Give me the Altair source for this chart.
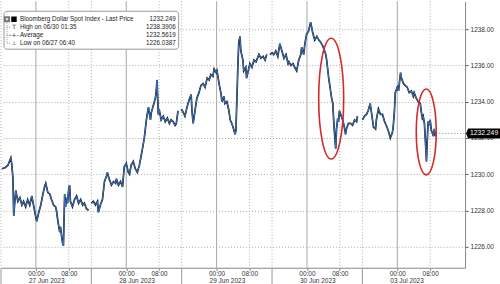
import altair as alt
import pandas as pd

# ---- price series (x = trading hours from 27 Jun 00:00 on the compressed axis) ----
seg_a_h = [-8.3, -7.6, -6.8, -6.1, -5.9, -5.6, -5.4, -5.1, -4.9, -4.4, -3.9, -3.4, -3.0, -2.5, -2.0, -1.5, -1.0, -0.5, 0.0, 0.2,
           0.7, 1.2, 1.7, 2.1, 2.4, 2.9, 3.4, 3.8, 4.3, 4.8, 5.0, 5.3, 5.5, 5.8, 6.0, 6.3, 6.5, 6.7, 7.0, 7.2,
           7.5, 7.7, 8.0, 8.2, 8.4, 8.9, 9.4, 9.9, 10.4, 10.9, 11.4, 11.8, 12.3, 12.8]
seg_a_v = [1230.3, 1230.35, 1230.5, 1230.9, 1230.6, 1229.8, 1227.7, 1228.6, 1229.1, 1228.5, 1228.7, 1228.3, 1228.5, 1228.2, 1228.6, 1228.3, 1228.8, 1228.2, 1227.6, 1227.4,
           1227.9, 1228.3, 1228.9, 1229.3, 1229.5, 1229.0, 1228.9, 1228.6, 1228.3, 1228.2, 1228.0, 1227.5, 1227.2, 1226.8, 1227.1, 1226.5, 1226.2, 1226.05, 1228.9, 1228.2,
           1228.7, 1228.4, 1229.2, 1229.4, 1228.5, 1228.2, 1228.6, 1228.8, 1228.4, 1228.6, 1228.3, 1228.4, 1228.1, 1228.0]

seg_b_h = [13.5, 14.0, 14.5, 15.0, 15.2, 15.7, 16.2, 16.7, 17.2, 17.4, 17.9, 18.4, 18.9, 19.4, 19.6, 20.1, 20.6, 21.1, 21.5, 22.0,
           22.5, 22.8, 23.2, 23.7, 24.2, 24.7, 25.2, 25.7, 26.1, 26.4, 26.9, 27.4, 27.9, 28.1, 28.6, 29.1, 29.3, 29.5, 29.8, 30.0,
           30.5, 31.0, 31.5, 32.0, 32.5, 32.9, 33.4, 33.9, 34.2, 34.6]
seg_b_v = [1228.4, 1228.5, 1228.3, 1228.5, 1227.9, 1228.3, 1228.6, 1229.6, 1229.9, 1230.1, 1229.7, 1229.4, 1229.6, 1229.5, 1229.75, 1229.4, 1229.6, 1229.3, 1230.4, 1230.6,
           1230.1, 1230.0, 1230.5, 1230.7, 1230.3, 1230.1, 1230.5, 1231.1, 1231.6, 1232.0, 1233.0, 1233.7, 1233.0, 1233.4, 1233.8, 1234.2, 1234.6, 1235.2, 1233.3, 1233.6,
           1233.0, 1233.2, 1232.9, 1233.1, 1232.8, 1233.0, 1232.9, 1232.7, 1232.8, 1233.5]

seg_c_h = [35.4, 35.9, 36.3, 36.8, 37.3, 37.8, 38.0, 38.3, 38.8, 39.2, 39.7, 40.2, 40.7, 41.2, 41.7, 42.2, 42.6, 43.1, 43.4, 43.9,
           44.1, 44.6, 45.1, 45.3, 45.8, 46.0, 46.5, 47.0, 47.3, 47.7, 48.0, 48.5, 48.7, 49.0, 49.2, 49.4, 49.7, 49.9, 50.4, 50.6,
           51.1, 51.3, 51.8, 52.1, 52.6, 53.1, 53.6, 54.3, 54.8, 55.3, 55.8, 56.2]
seg_c_v = [1233.6, 1233.4, 1233.2, 1233.7, 1234.1, 1234.4, 1233.5, 1232.8, 1233.6, 1234.2, 1234.5, 1234.9, 1235.0, 1234.8, 1235.3, 1235.2, 1235.5, 1235.4, 1235.8, 1235.6,
           1235.7, 1235.0, 1234.4, 1234.0, 1234.3, 1233.9, 1234.0, 1233.5, 1233.0, 1232.8, 1232.6, 1232.2, 1232.4, 1234.6, 1236.1, 1237.3, 1237.6, 1236.8, 1236.3, 1235.7,
           1235.9, 1235.3, 1235.8, 1236.1, 1235.9, 1236.3, 1236.2, 1236.6, 1236.4, 1236.5, 1236.3, 1236.6]

seg_d_h = [57.0, 57.5, 57.9, 58.4, 58.9, 59.4, 59.9, 60.4, 60.9, 61.4, 61.6, 62.1, 62.6, 63.0, 63.5, 64.0, 64.5, 64.7, 65.2, 65.5,
           65.9, 66.4, 66.9, 67.4, 67.9, 68.4, 68.9, 69.3, 69.8, 70.3, 70.6, 70.8, 71.3, 71.5, 72.0, 72.3, 72.5, 72.7, 73.0, 73.2,
           73.5, 73.7, 73.9, 74.2, 74.7, 75.1, 75.4, 75.6, 76.1, 76.6, 77.1, 77.6, 78.1, 78.3]
seg_d_v = [1236.6, 1236.7, 1236.6, 1236.8, 1236.5, 1237.2, 1236.8, 1236.4, 1236.6, 1236.1, 1236.2, 1236.0, 1236.1, 1235.9, 1235.7, 1236.3, 1236.6, 1237.0, 1236.6, 1237.2,
           1237.7, 1237.9, 1238.39, 1237.8, 1237.4, 1237.6, 1237.4, 1237.3, 1237.1, 1236.8, 1236.6, 1236.3, 1235.3, 1235.0, 1234.2, 1233.9, 1233.0, 1232.3, 1231.4, 1232.5,
           1233.1, 1232.9, 1233.5, 1233.3, 1233.0, 1232.6, 1232.2, 1232.5, 1232.8, 1232.8, 1232.7, 1233.0, 1232.9, 1233.2]

seg_e_h = [79.5, 80.0, 80.5, 80.9, 81.4, 81.9, 82.2, 82.7, 82.9, 83.4, 83.9, 84.4, 84.9, 85.3, 85.8, 86.3, 86.8, 87.0, 87.3, 87.5,
           88.0, 88.3, 88.8, 89.0, 89.5, 89.9, 90.4, 90.9, 91.4, 91.9, 92.1, 92.6, 93.1, 93.6, 93.8, 94.1, 94.3, 94.6, 94.8, 95.1,
           95.3, 95.5, 95.8, 96.0, 96.3, 96.5, 96.8, 97.0, 97.3, 97.5]
seg_e_v = [1233.0, 1233.2, 1233.3, 1233.5, 1233.9, 1233.1, 1232.6, 1232.5, 1233.0, 1233.6, 1233.3, 1233.3, 1232.9, 1232.7, 1232.4, 1232.0, 1232.3, 1232.6, 1233.5, 1234.5,
           1234.8, 1234.6, 1235.6, 1235.3, 1235.0, 1234.9, 1234.8, 1234.5, 1234.6, 1234.3, 1234.5, 1234.2, 1234.0, 1233.9, 1233.5, 1233.1, 1233.2, 1232.8, 1232.0, 1230.7,
           1231.9, 1232.9, 1232.7, 1233.0, 1232.4, 1232.3, 1232.1, 1232.5, 1232.1, 1232.249]

# ---- axis / annotation values ----
day_starts = [0, 22, 44, 66, 88]
day_labels = ["27 Jun 2023", "28 Jun 2023", "29 Jun 2023", "30 Jun 2023", "03 Jul 2023"]
hour8_marks = [8, 30, 52, 74, 96]
session_breaks = [-8.5, 13.5, 35.5, 57.5, 79.5]
y_ticks = [1226, 1228, 1230, 1232, 1234, 1236, 1238]
last_price = 1232.249
last_hour = 97.5

ellipse_h = [71.9, 95.05]
ellipse_v = [1234.17, 1232.33]
ellipse_w = [25, 20]
ellipse_ht = [121, 86]

legend_names = ["Bloomberg Dollar Spot Index - Last Price", "High on 06/30 01:35", "Average", "Low on 06/27 06:40"]
legend_values = ["1232.249", "1238.3906", "1232.5619", "1226.0387"]
legend_icons = ["", "T", "-+-", "\u22a5"]

# ---- build tables ----
rows = []
for name, hs, vs in [("a", seg_a_h, seg_a_v), ("b", seg_b_h, seg_b_v), ("c", seg_c_h, seg_c_v),
                     ("d", seg_d_h, seg_d_v), ("e", seg_e_h, seg_e_v)]:
    for h, v in zip(hs, vs):
        rows.append({"h": h, "v": v, "seg": name})
price_df = pd.DataFrame(rows)

FONT = "Liberation Sans"
X_DOMAIN = [-8.5, 104.5]
Y_DOMAIN = [1224.84, 1239.54]
xs = alt.Scale(domain=X_DOMAIN, nice=False, zero=False)
ys = alt.Scale(domain=Y_DOMAIN, nice=False, zero=False)

x_axis = alt.Axis(values=[0, 8, 22, 30, 44, 52, 66, 74, 88, 96],
                  labelExpr="(datum.value % 22) == 0 ? '00:00' : '08:00'",
                  grid=False, domainColor="#888888", tickColor="#888888", tickSize=3,
                  labelFontSize=6.5, labelFont=FONT, labelColor="#333333", labelPadding=0,
                  title=None, labelFlush=False)
y_axis = alt.Axis(orient="right", values=y_ticks, format=".2f", grid=True,
                  gridDash=[1, 2], gridColor="#aaaaaa", domainColor="#888888",
                  tickColor="#555555", tickSize=3, labelFontSize=6.5, labelFont=FONT,
                  labelColor="#333333", labelPadding=2, title=None)

base_price = alt.Chart(price_df)

black_line = base_price.mark_line(color="#101820", strokeWidth=1.7, clip=True).encode(
    x=alt.X("h:Q", scale=xs, axis=x_axis),
    y=alt.Y("v:Q", scale=ys, axis=y_axis),
    detail="seg:N",
)
blue_line = base_price.mark_line(color="#3f72bd", strokeWidth=1.0, clip=True).encode(
    x=alt.X("h:Q", scale=xs),
    y=alt.Y("v:Q", scale=ys),
    detail="seg:N",
)

solid_days = alt.Chart(pd.DataFrame({"h": day_starts})).mark_rule(color="#a8a8a8", strokeWidth=1).encode(
    x=alt.X("h:Q", scale=xs))
dotted_v = alt.Chart(pd.DataFrame({"h": hour8_marks + session_breaks})).mark_rule(
    color="#b0b0b0", strokeWidth=1, strokeDash=[1, 2]).encode(x=alt.X("h:Q", scale=xs))
separators = alt.Chart(pd.DataFrame({"h": session_breaks})).mark_rule(
    color="#999999", strokeWidth=1, clip=False).encode(
    x=alt.X("h:Q", scale=xs), y=alt.value(267), y2=alt.value(284))

date_text = alt.Chart(pd.DataFrame({"h": day_starts, "lab": day_labels})).mark_text(
    font=FONT, fontSize=6.5, color="#333333", align="left", baseline="middle", dx=-7).encode(
    x=alt.X("h:Q", scale=xs), y=alt.value(280), text="lab:N")

last_df = pd.DataFrame({"h": [last_hour], "v": [last_price], "lab": [f"{last_price:.3f}"]})
last_rule = alt.Chart(last_df).mark_rule(color="#888888", strokeDash=[1, 2], strokeWidth=1).encode(
    x=alt.X("h:Q", scale=xs), x2=alt.value(465), y=alt.Y("v:Q", scale=ys))
box_path = "M-1,0L-0.88,-0.294L1,-0.294L1,0.294L-0.88,0.294Z"
last_box = alt.Chart(last_df).mark_point(shape=box_path, size=1156, filled=True, color="#000000",
                                         opacity=1, clip=False).encode(
    x=alt.value(483), y=alt.Y("v:Q", scale=ys))
last_text = alt.Chart(last_df).mark_text(font=FONT, fontSize=6.8, color="#ffffff", align="center",
                                         baseline="middle", clip=False).encode(
    x=alt.value(484), y=alt.Y("v:Q", scale=ys), text="lab:N")

ell_df = pd.DataFrame({"h": ellipse_h, "v": ellipse_v, "w": ellipse_w, "ht": ellipse_ht})
ell_df["shape"] = [f"M0,-1A{w / t:.3f},1 0 1,1 0,1A{w / t:.3f},1 0 1,1 0,-1Z" for w, t in zip(ellipse_w, ellipse_ht)]
ell_df["sz"] = [t * t for t in ellipse_ht]
ellipses = alt.Chart(ell_df).mark_point(filled=False, color="#d42a2a", strokeWidth=1.6, opacity=1).encode(
    x=alt.X("h:Q", scale=xs), y=alt.Y("v:Q", scale=ys),
    shape=alt.Shape("shape:N", scale=None), size=alt.Size("sz:Q", scale=None))

# ---- legend box ----
one = pd.DataFrame({"k": [0]})
legend_layers = [
    alt.Chart(one).mark_rect(fill="#ffffff", stroke="#9a9a9a", strokeWidth=1, cornerRadius=3).encode(
        x=alt.value(3), x2=alt.value(178), y=alt.value(10), y2=alt.value(48)),
    alt.Chart(one).mark_rule(color="#999999", strokeDash=[1, 1]).encode(
        x=alt.value(6), y=alt.value(18), y2=alt.value(42)),
    alt.Chart(one).mark_point(shape="square", size=18, filled=False, color="#777777", opacity=1).encode(
        x=alt.value(6), y=alt.value(18)),
    alt.Chart(one).mark_point(shape="square", size=30, filled=True, color="#000000", opacity=1).encode(
        x=alt.value(13), y=alt.value(18)),
]
for i, (nm, val, ic) in enumerate(zip(legend_names, legend_values, legend_icons)):
    yy = 18 + 8 * i
    d = pd.DataFrame({"nm": [nm], "val": [val], "ic": [ic]})
    legend_layers.append(alt.Chart(d).mark_text(font=FONT, fontSize=6.3, color="#222222", align="left",
                                                baseline="middle").encode(
        x=alt.value(19), y=alt.value(yy), text="nm:N"))
    legend_layers.append(alt.Chart(d).mark_text(font=FONT, fontSize=6.3, color="#222222", align="right",
                                                baseline="middle").encode(
        x=alt.value(175), y=alt.value(yy), text="val:N"))
    if i > 0:
        legend_layers.append(alt.Chart(d).mark_rule(color="#999999", strokeDash=[1, 1]).encode(
            x=alt.value(6), x2=alt.value(10), y=alt.value(yy)))
        legend_layers.append(alt.Chart(d).mark_text(font="DejaVu Sans", fontSize=6, color="#333333",
                                                    align="center", baseline="middle").encode(
            x=alt.value(13), y=alt.value(yy), text="ic:N"))

chart = alt.layer(
    solid_days, dotted_v, separators, black_line, blue_line, last_rule, ellipses,
    date_text, last_box, last_text, *legend_layers
).properties(width=465, height=267, padding=0, background="#ffffff").configure_view(strokeWidth=0)

chart.save("out.html", embed_options={"renderer": "svg", "actions": False})
